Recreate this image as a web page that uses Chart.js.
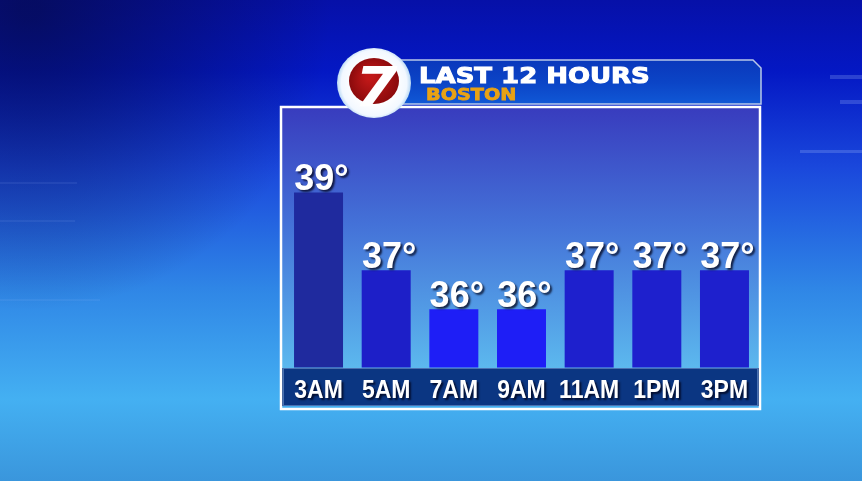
<!DOCTYPE html>
<html>
<head>
<meta charset="utf-8">
<script src="https://cdn.jsdelivr.net/npm/chart.js@4"></script>
<style>
  html, body { margin: 0; padding: 0; background: #0a2ac8; overflow: hidden; }
  canvas { display: block; }
</style>
</head>
<body>
<canvas id="tempChart" width="862" height="481"></canvas>
<script>
// chart data
const hours = ['3AM', '5AM', '7AM', '9AM', '11AM', '1PM', '3PM'];
const temps = [39, 37, 36, 36, 37, 37, 37];
const titleText = 'LAST 12 HOURS';
const cityText = 'BOSTON';

// bar shades as seen on air
const barColors = ['#1f2a9e', '#1d1fc8', '#1e1ef6', '#1e1ef6', '#1e20cd', '#1e20cd', '#1e20cd'];

// background, header strip, panel and the "7" logo
const backdrop = {
    id: 'backdrop',
    beforeDraw(chart) {
        const c = chart.ctx;
        const W = chart.width, H = chart.height;
        c.save();

        let g = c.createLinearGradient(0, 0, 0, H);
        g.addColorStop(0, '#0610a8');
        g.addColorStop(0.15, '#0418c4');
        g.addColorStop(0.35, '#1a48dc');
        g.addColorStop(0.6, '#2f86e6');
        g.addColorStop(0.83, '#44b0f2');
        g.addColorStop(1, '#3a96dc');
        c.fillStyle = g;
        c.fillRect(0, 0, W, H);

        // darker top left corner
        let r = c.createRadialGradient(30, 10, 10, 30, 10, 300);
        r.addColorStop(0, 'rgba(5,10,70,0.7)');
        r.addColorStop(1, 'rgba(5,10,70,0)');
        c.fillStyle = r;
        c.fillRect(0, 0, W, H);

        // faint graphics lines
        c.strokeStyle = 'rgba(170,200,255,0.18)';
        c.lineWidth = 1;
        [[0, 221, 75], [0, 183, 77], [0, 300, 100]].forEach(([x0, y, x1]) => {
            c.beginPath(); c.moveTo(x0, y); c.lineTo(x1, y); c.stroke();
        });
        c.fillStyle = 'rgba(180,205,255,0.22)';
        c.fillRect(830, 75, 32, 4);
        c.fillRect(840, 100, 22, 4);
        c.fillRect(800, 150, 62, 3);

        // header strip
        const hx = 392, hy = 60, hr = 761, hb = 104;
        c.beginPath();
        c.moveTo(hx, hy);
        c.lineTo(hr - 8, hy);
        c.lineTo(hr, hy + 8);
        c.lineTo(hr, hb);
        c.lineTo(hx, hb);
        c.closePath();
        g = c.createLinearGradient(0, hy, 0, hb);
        g.addColorStop(0, '#0a38bc');
        g.addColorStop(0.5, '#0b44c6');
        g.addColorStop(1, '#1058d6');
        c.fillStyle = g;
        c.fill();
        c.strokeStyle = '#b8c8e8';
        c.lineWidth = 1.5;
        c.stroke();

        // panel
        g = c.createLinearGradient(0, 108, 0, 368);
        g.addColorStop(0, '#383cbe');
        g.addColorStop(0.45, '#4472d8');
        g.addColorStop(1, '#5cb8ee');
        c.fillStyle = g;
        c.fillRect(281, 107, 479, 261);

        // label band
        c.fillStyle = '#0b3682';
        c.fillRect(282, 368, 477, 38);
        c.strokeStyle = 'rgba(90,130,190,0.8)';
        c.lineWidth = 1;
        c.strokeRect(283.5, 368.5, 474, 37);

        c.strokeStyle = '#ffffff';
        c.lineWidth = 2.5;
        c.strokeRect(281, 107, 479, 302);

        // logo
        c.beginPath();
        c.ellipse(374, 83, 37, 35, 0, 0, Math.PI * 2);
        r = c.createRadialGradient(374, 83, 20, 374, 83, 37);
        r.addColorStop(0, '#ffffff');
        r.addColorStop(0.75, '#f2f8ff');
        r.addColorStop(1, '#b8d8f4');
        c.fillStyle = r;
        c.fill();

        c.beginPath();
        c.ellipse(374, 81, 25, 23, 0, 0, Math.PI * 2);
        r = c.createRadialGradient(370, 76, 4, 374, 81, 25);
        r.addColorStop(0, '#c01818');
        r.addColorStop(1, '#8a0a0c');
        c.fillStyle = r;
        c.fill();

        c.save();
        c.translate(376, 106);
        c.scale(1.1, 1);
        c.fillStyle = '#ffffff';
        c.font = 'italic bold 56px "DejaVu Sans"';
        c.textAlign = 'center';
        c.textBaseline = 'alphabetic';
        c.fillText('7', 0, 0);
        c.restore();

        // header text
        c.save();
        c.translate(419, 83);
        c.scale(1.18, 1);
        c.textAlign = 'left';
        c.font = 'bold 22px "DejaVu Sans"';
        c.fillStyle = '#ffffff';
        c.strokeStyle = '#ffffff';
        c.lineWidth = 1;
        c.fillText(titleText, 0, 0);
        c.strokeText(titleText, 0, 0);
        c.restore();

        c.save();
        c.translate(426, 100);
        c.scale(1.2, 1);
        c.textAlign = 'left';
        c.font = 'bold 16px "DejaVu Sans"';
        c.fillStyle = '#e8a214';
        c.strokeStyle = '#e8a214';
        c.lineWidth = 0.8;
        c.fillText(cityText, 0, 0);
        c.strokeText(cityText, 0, 0);
        c.restore();

        c.restore();
    }
};

// value labels on the bars and the hour labels in the band
const labelsPlugin = {
    id: 'labels',
    afterDraw(chart) {
        const c = chart.ctx;
        const meta = chart.getDatasetMeta(0);
        const xScale = chart.scales.x;
        c.save();
        c.shadowColor = 'rgba(0,0,20,0.75)';
        c.shadowOffsetX = 2;
        c.shadowOffsetY = 2;
        c.shadowBlur = 2;
        c.fillStyle = '#ffffff';
        c.strokeStyle = '#ffffff';
        c.textAlign = 'center';
        c.textBaseline = 'alphabetic';

        c.font = 'bold 36px "Liberation Sans"';
        c.lineWidth = 1;
        meta.data.forEach((bar, i) => {
            const t = temps[i] + '°';
            c.fillText(t, bar.x + 3, bar.y - 2);
        });

        hours.forEach((h, i) => {
            const x = xScale.getPixelForValue(i);
            c.save();
            c.translate(x, 398);
            c.scale(0.92, 1);
            c.font = 'bold 25px "Liberation Sans"';
            c.fillText(h, 0, 0);
            c.restore();
        });
        c.restore();
    }
};

const ctx = document.getElementById('tempChart').getContext('2d');
const tempChart = new Chart(ctx, {
    type: 'bar',
    data: {
        labels: hours,
        datasets: [{
            data: temps,
            backgroundColor: barColors,
            borderWidth: 0,
            categoryPercentage: 1,
            barPercentage: 0.724
        }]
    },
    options: {
        responsive: false,
        animation: false,
        devicePixelRatio: 1,
        layout: {
            padding: { left: 284.7, right: 103.7, top: 114.6, bottom: 113.5 }
        },
        plugins: {
            legend: { display: false },
            tooltip: { enabled: false }
        },
        scales: {
            x: { display: false },
            y: { display: false, min: 34.5, max: 41 }
        }
    },
    plugins: [backdrop, labelsPlugin]
});
</script>
</body>
</html>
